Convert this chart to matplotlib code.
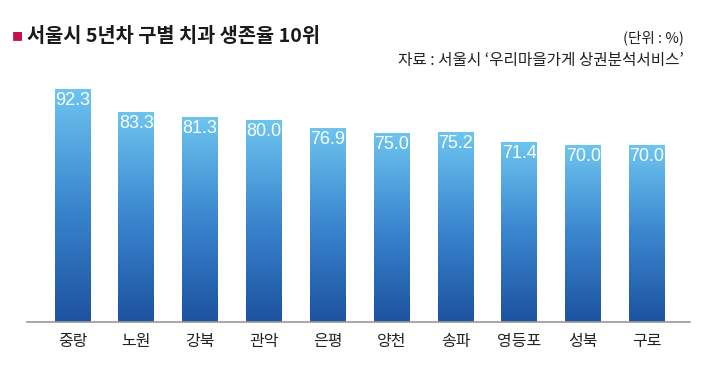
import matplotlib
matplotlib.use("Agg")
import matplotlib.pyplot as plt
from matplotlib.colors import LinearSegmentedColormap
import numpy as np

plt.rcParams['font.family'] = ['Noto Sans CJK KR', 'DejaVu Sans']

districts = ['중랑', '노원', '강북', '관악', '은평', '양천', '송파', '영등포', '성북', '구로']
rates     = [92.3, 83.3, 81.3, 80.0, 76.9, 75.0, 75.2, 71.4, 70.0, 70.0]
labels    = ['92.3', '83.3', '81.3', '80.0', '76.9', '75.0', '75.2', '71.4', '70.0', '70.0']

title  = '서울시 5년차 구별 치과 생존율 10위'
unit   = '(단위 : %)'
source = "자료 : 서울시 ‘우리마을가게 상권분석서비스’"

fig = plt.figure(figsize=(7.2, 3.71), dpi=100)
ax = fig.add_axes([27/720, 49/371, 663/720, 252.4/371])

x = np.arange(len(districts))
bars = ax.bar(x, rates, width=0.56, color='none', edgecolor='none', zorder=2)

# vertical gradient inside every bar
cmap = LinearSegmentedColormap.from_list('blu', ['#1d52a0', '#3a86cf', '#6dc5ef'])
grad = np.linspace(0, 1, 256).reshape(-1, 1)
for b in bars:
    x0, y0 = b.get_x(), b.get_y()
    w, h = b.get_width(), b.get_height()
    im = ax.imshow(grad, cmap=cmap, origin='lower', aspect='auto',
                   extent=[x0, x0 + w, y0, y0 + h], zorder=2)
    im.set_clip_path(b)

for xi, v, lab in zip(x, rates, labels):
    ax.text(xi, v - 1.2, lab, ha='center', va='top', color='white',
            fontsize=13, family=['Liberation Sans Narrow', 'Liberation Sans'], zorder=3)

ax.set_xlim(-0.713, 9.674)
ax.set_ylim(0, 100)
ax.set_xticks(x)
ax.set_xticklabels(districts, fontsize=11.5, color='#222222')
ax.tick_params(axis='x', length=0, pad=8)
ax.set_yticks([])
for s in ['top', 'right', 'left']:
    ax.spines[s].set_visible(False)
ax.spines['bottom'].set_color('#999999')
ax.spines['bottom'].set_linewidth(1.2)

fig.text(12/720, 1 - 37/371, '■', color='#c3114f', fontsize=8, va='center', ha='left')
fig.text(27/720, 1 - 37/371, title, fontsize=14.2, fontweight='bold', color='#1a1a1a',
         va='center', ha='left')
fig.text(684/720, 1 - 38/371, unit, fontsize=10.5, color='#222222', va='center', ha='right')
fig.text(684/720, 1 - 61/371, source, fontsize=11.3, color='#222222', va='center', ha='right')

fig.savefig('out.png', dpi=100)
